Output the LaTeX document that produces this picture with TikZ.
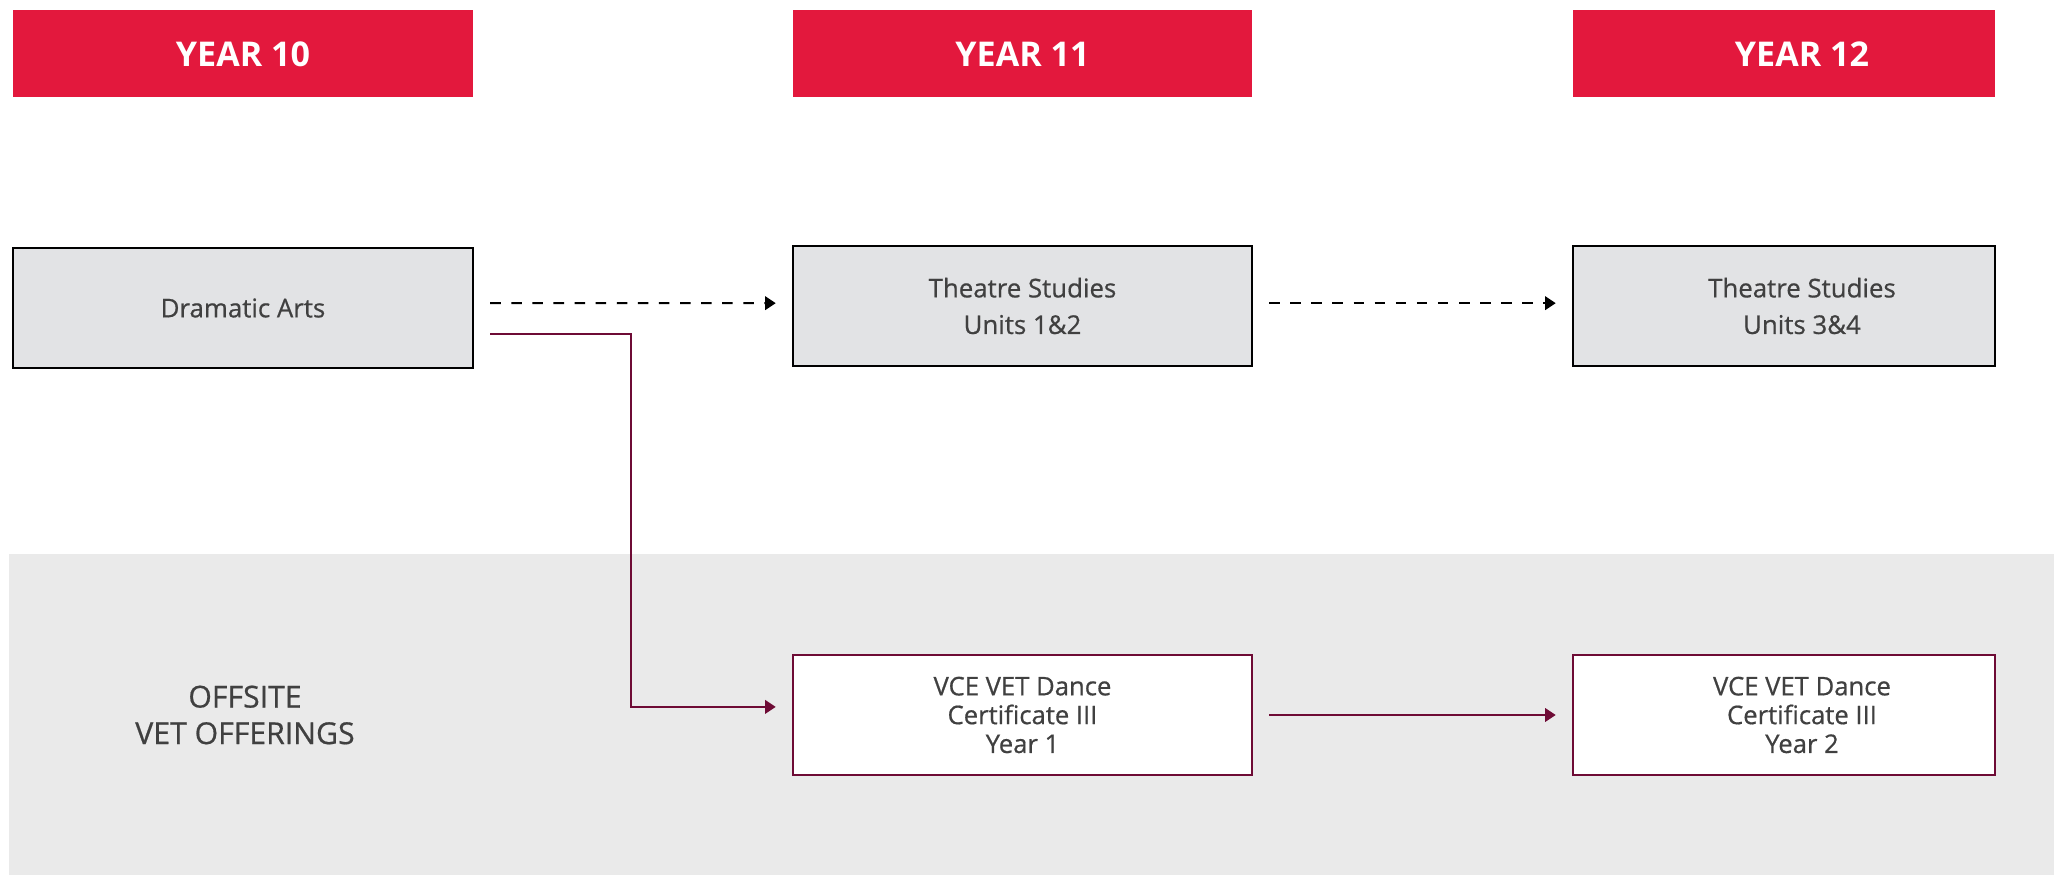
\documentclass[tikz,border=0pt]{standalone}
\usepackage{fontspec}
\setmainfont{Open Sans}
\newfontfamily\sbfont{Open Sans}[FakeBold=0.6]
\usetikzlibrary{arrows.meta}

\definecolor{yearred}{HTML}{E3183D}
\definecolor{boxgray}{HTML}{E2E3E5}
\definecolor{bandgray}{HTML}{EAEAEA}
\definecolor{vetline}{HTML}{6E0B35}
\definecolor{textgray}{HTML}{404040}

% year 12 boxes are narrower, their text sits as in a full-width box
\newcommand{\colshift}{\hspace*{0.36cm}}

\begin{document}
\begin{tikzpicture}[
    year/.style={fill=yearred, text=white, font=\fontsize{9.7}{12}\selectfont\bfseries,
      minimum height=0.87cm, inner sep=0pt},
    course/.style={draw=black, line width=0.8pt, fill=boxgray, text=textgray,
      minimum width=4.59cm, minimum height=1.2cm, align=center, inner sep=0pt,
      font=\sbfont\fontsize{7.35}{10.4}\selectfont},
    vet/.style={draw=vetline, line width=0.8pt, fill=white, text=textgray,
      minimum width=4.59cm, minimum height=1.2cm, align=center, inner sep=0pt,
      font=\sbfont\fontsize{7.3}{8.2}\selectfont},
    tip/.style={-{Triangle[length=3pt,width=3.8pt]}}
  ]
      \useasboundingbox (0, 0) rectangle (20.54, 8.75);

      % offsite band
      \fill[bandgray] (0.09, 0) rectangle (20.54, 3.21);

      \node[year, minimum width=4.60cm] (y10) at (2.43, 8.21) {YEAR 10};
      \node[year, minimum width=4.59cm] (y11) at (10.225, 8.21) {YEAR 11};
      \node[year, minimum width=4.22cm] (y12) at (17.84, 8.21) {\colshift YEAR 12};

      \node[course, minimum width=4.60cm] (drama) at (2.43, 5.67) {Dramatic Arts};
      \node[course] (th12) at (10.225, 5.69) {Theatre Studies\\Units 1\&2};
      \node[course, minimum width=4.22cm] (th34) at (17.84, 5.69) {\colshift Theatre Studies\\\colshift Units 3\&4};

      \node[vet] (dance1) at (10.225, 1.6) {VCE VET Dance\\Certificate III\\Year 1};
      \node[vet, minimum width=4.22cm] (dance2) at (17.84, 1.6)
        {\colshift VCE VET Dance\\\colshift Certificate III\\\colshift Year 2};

      \node[text=textgray, align=center, font=\sbfont\fontsize{8.6}{10.4}\selectfont] (offsite)
        at (2.45, 1.60) {OFFSITE\\VET OFFERINGS};

      \draw[tip, dashed, line width=0.6pt] ([xshift=4.5pt, yshift=1.4pt]drama.east) -- ([xshift=-4.5pt, yshift=0.8pt]th12.west);
      \draw[tip, dashed, line width=0.6pt] ([xshift=4.5pt, yshift=0.8pt]th12.east) -- ([xshift=-4.5pt, yshift=0.8pt]th34.west);

      \coordinate (bend) at (6.31, 5.41);
      \draw[tip, vetline, line width=0.6pt] ([xshift=4.5pt]drama.east |- bend) -- (bend)
        |- ([xshift=-4.5pt, yshift=2.3pt]dance1.west);
      \draw[tip, vetline, line width=0.6pt] ([xshift=4.5pt]dance1.east) -- ([xshift=-4.5pt]dance2.west);

   \end{tikzpicture}
\end{document}
